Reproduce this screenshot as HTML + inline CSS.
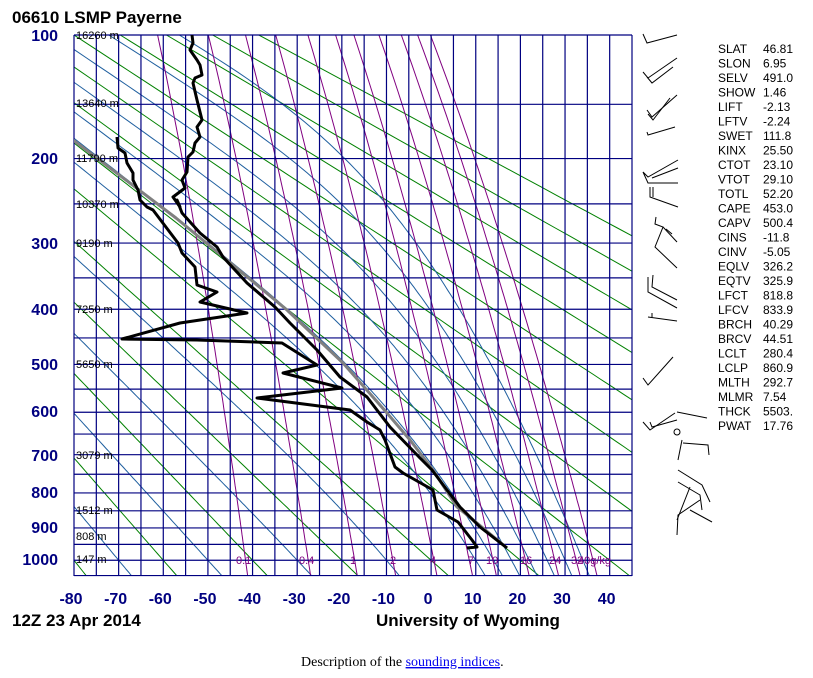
<!DOCTYPE html>
<html><head><meta charset="utf-8">
<style>
body{margin:0;background:#fff;width:813px;height:678px;overflow:hidden;font-family:"Liberation Sans",sans-serif;}
svg{position:absolute;left:0;top:0}
</style></head><body>
<svg id="s" width="813" height="678" viewBox="0 0 813 678" xmlns="http://www.w3.org/2000/svg">
<defs><clipPath id="c"><rect x="74" y="35" width="558" height="541"/></clipPath></defs>
<rect width="813" height="678" fill="#fff"/>
<g id="bg" clip-path="url(#c)"></g>
<g id="grid"></g>
<g id="snd" clip-path="url(#c)" fill="none" stroke-linejoin="round">
<polyline stroke="#808080" stroke-width="3" points="507,548 477,523 457,507 433,470 410,440 387,413 343,363 287,310 227,260 176,218 73,140"/>
<polyline stroke="#000" stroke-width="3" points="507,548 480,527 460,507 447,490 432,470 420,458 390,427 367,397 340,377 317,350 290,323 275,307 247,283 223,257 217,247 200,233 182,213 177,200 180,207 173,197 185,188 182,180 187,172 188,157 193,152 195,143 200,137 197,127 202,120 197,100 193,83 195,78 202,75 200,65 197,60 190,50 193,43 192,35"/>
<polyline stroke="#000" stroke-width="3" points="467,548 477,547 472,540 458,522 437,510 433,490 403,473 395,467 385,440 380,430 367,422 350,410 257,398 342,388 283,373 317,365 282,343 197,340 122,339 180,323 247,313 200,302 217,292 197,285 195,267 182,253 178,243 153,210 147,207 140,200 138,190 133,180 133,173 127,163 125,153 118,148 117,137"/>
</g>
<g fill="none" stroke="#000" stroke-width="1">
<polyline points="677,35 647,43 643,34"/>
<polyline points="677,58 648,78 643,72"/><polyline points="673,67 652,83 647,77"/>
<polyline points="677,95 652,117 647,110"/><polyline points="670,98 653,120 648,114"/>
<polyline points="675,127 648,135 647,132"/>
<polyline points="678,160 648,177 643,172 648,183 678,183"/><polyline points="678,168 652,178"/>
<polyline points="650,187 650,197 678,207"/><polyline points="653,187 653,197"/>
<polyline points="656,217 655,224 663,227 655,247 677,268"/><polyline points="663,227 677,242"/><polyline points="666,229 672,234"/>
<polyline points="653,275 652,287 677,300"/><polyline points="648,277 648,292 677,308"/>
<polyline points="648,317 677,321"/><polyline points="652,313 652,318"/>
<polyline points="673,357 648,385 643,378"/>
<polyline points="675,413 650,430 643,422"/>
<polyline points="707,418 677,412"/><polyline points="677,420 652,427 650,422"/>
<circle cx="677" cy="432" r="3"/>
<polyline points="683,443 708,445 709,455"/><polyline points="682,440 678,460"/>
<polyline points="678,470 702,485 710,502"/><polyline points="678,482 700,495 702,510"/>
<polyline points="690,487 677,520"/><polyline points="700,500 678,515 677,535"/><polyline points="690,510 712,522"/>
</g>
<g font-size="16" font-weight="bold" fill="#000080" text-anchor="end">
<text x="58" y="41">100</text><text x="58" y="164">200</text><text x="58" y="249">300</text>
<text x="58" y="315">400</text><text x="58" y="370">500</text><text x="58" y="417">600</text>
<text x="58" y="461">700</text><text x="58" y="498">800</text><text x="58" y="533">900</text>
<text x="58" y="565">1000</text>
</g>
<g font-size="16" font-weight="bold" fill="#000080" text-anchor="middle" id="tlab"></g>
<g font-size="11" fill="#000">
<text x="76" y="39">16260 m</text><text x="76" y="107">13640 m</text><text x="76" y="162">11790 m</text>
<text x="76" y="208">10370 m</text><text x="76" y="247">9190 m</text><text x="76" y="313">7250 m</text>
<text x="76" y="368">5650 m</text><text x="76" y="459">3079 m</text><text x="76" y="514">1512 m</text>
<text x="76" y="540">808 m</text><text x="76" y="563">147 m</text>
</g>
<g font-size="11" fill="#800080">
<text x="236" y="564">0.1</text><text x="299" y="564">0.4</text><text x="350" y="564">1</text>
<text x="390" y="564">2</text><text x="430" y="564">4</text><text x="468" y="564">7</text>
<text x="486" y="564">10</text><text x="520" y="564">16</text><text x="549" y="564">24</text>
<text x="571" y="564">32</text><text x="578" y="564">40g/kg</text>
</g>
<text x="12" y="23" font-size="17" font-weight="bold">06610 LSMP Payerne</text>
<text x="12" y="626" font-size="17" font-weight="bold">12Z 23 Apr 2014</text>
<text x="376" y="626" font-size="17" font-weight="bold">University of Wyoming</text>
<text x="301" y="666" font-size="14" font-family="Liberation Serif,serif">Description of the <tspan fill="#0000ee" text-decoration="underline">sounding indices</tspan>.</text>
<g font-size="12" fill="#000" id="idx"></g>
</svg>
<script>
var NS="http://www.w3.org/2000/svg";
function X(t){return 74+(t+80)*4.464;}
function Y(p){return 35+151*(Math.pow(p,0.286)-Math.pow(100,0.286));}
function el(g,n,a,txt){var e=document.createElementNS(NS,n);for(var k in a)e.setAttribute(k,a[k]);if(txt!=null)e.textContent=txt;g.appendChild(e);return e;}
var bg=document.getElementById('bg'),grid=document.getElementById('grid');
function poly(g,pts,col,w){el(g,'polyline',{points:pts.map(function(q){return q[0].toFixed(1)+','+q[1].toFixed(1)}).join(' '),fill:'none',stroke:col,'stroke-width':w||1});}
var ps=[];for(var p=100;p<=1050;p+=10)ps.push(p);
for(var th=-80;th<=180;th+=20){var pts=[];ps.forEach(function(p){var T=(th+273.15)*Math.pow(p/1000,0.286)-273.15;pts.push([X(T),Y(p)]);});poly(bg,pts,'#008000');}
function es(tc){return 6.112*Math.exp(17.67*tc/(tc+243.5));}
function seg(T,p,dp){var tc=T-273.15,e=es(tc),rs=0.622*e/(p-e),L=2.5e6,Rd=287,cp=1004;var g=(Rd*T+L*rs)/(cp+L*L*rs*0.622/(Rd*T*T))/p;return T+g*dp;}
[-70,-50,-30,-10,10,14,18,22,26,30,34].forEach(function(tw){var T=tw+273.15,pts=[];
 for(var q=1000;q<1050;q+=1)T=seg(T,q,1);
 for(var p=1050;p>=100;p-=1){if(p%5==0)pts.push([X(T-273.15),Y(p)]);T=seg(T,p,-1);}
 poly(bg,pts,'#1f5f9f');});
[0.1,0.4,1,2,4,7,10,16,24,32,40].forEach(function(w){var pts=[];ps.forEach(function(p){var e=w*p/(622+w),l=Math.log(e/6.112),tc=243.5*l/(17.67-l);pts.push([X(tc),Y(p)]);});poly(bg,pts,'#800080');});
for(var t=-80;t<=45;t+=5)el(grid,'line',{x1:X(t),x2:X(t),y1:35,y2:576,stroke:'#000080','stroke-width':1.2});
for(var p=100;p<=1050;p+=50)el(grid,'line',{x1:74,x2:632,y1:Y(p),y2:Y(p),stroke:'#000080','stroke-width':1.2});
var tl=document.getElementById('tlab');for(var t=-80;t<=40;t+=10)el(tl,'text',{x:X(t)-3,y:604},String(t));
var idx=[["SLAT","46.81"],["SLON","6.95"],["SELV","491.0"],["SHOW","1.46"],["LIFT","-2.13"],["LFTV","-2.24"],["SWET","111.8"],["KINX","25.50"],["CTOT","23.10"],["VTOT","29.10"],["TOTL","52.20"],["CAPE","453.0"],["CAPV","500.4"],["CINS","-11.8"],["CINV","-5.05"],["EQLV","326.2"],["EQTV","325.9"],["LFCT","818.8"],["LFCV","833.9"],["BRCH","40.29"],["BRCV","44.51"],["LCLT","280.4"],["LCLP","860.9"],["MLTH","292.7"],["MLMR","7.54"],["THCK","5503."],["PWAT","17.76"]];
var ig=document.getElementById('idx');idx.forEach(function(r,i){var y=53+i*14.5;el(ig,'text',{x:718,y:y},r[0]);el(ig,'text',{x:763,y:y},r[1]);});
</script>
</body></html>
